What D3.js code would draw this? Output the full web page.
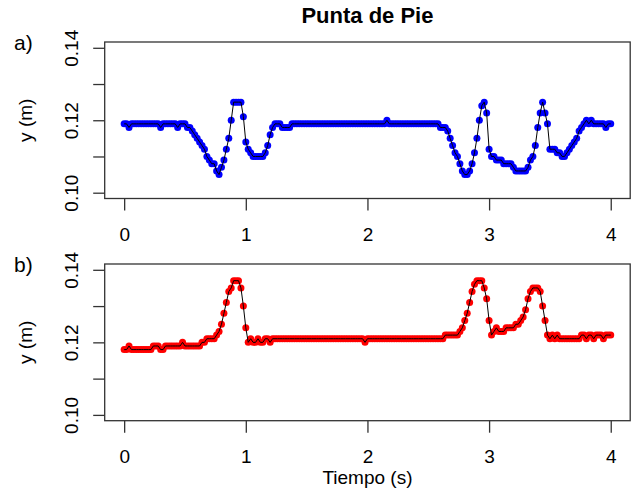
<!DOCTYPE html>
<html>
<head>
<meta charset="utf-8">
<script src="https://cdn.jsdelivr.net/npm/d3@7"></script>
<style>
  body { margin: 0; background: #fff; }
  svg { display: block; font-family: "Liberation Sans", Arial, sans-serif; }
</style>
</head>
<body>
<script>
// sample step (s)
var dt = 0.02;

// a) y (m), one value per sample
var yA = [
  .119,.119,.118,.119,.119,.119,.119,.119,.119,.119,
  .119,.119,.119,.119,.119,.118,.119,.119,.119,.119,
  .119,.119,.118,.119,.119,.119,.118,.118,.117,.116,
  .115,.114,.113,.112,.110,.109,.108,.108,.106,.105,
  .107,.109,.112,.115,.120,.125,.125,.125,.125,.121,
  .114,.112,.111,.110,.110,.110,.110,.110,.111,.113,
  .116,.118,.119,.119,.119,.118,.118,.118,.118,.119,
  .119,.119,.119,.119,.119,.119,.119,.119,.119,.119,
  .119,.119,.119,.119,.119,.119,.119,.119,.119,.119,
  .119,.119,.119,.119,.119,.119,.119,.119,.119,.119,
  .119,.119,.119,.119,.119,.119,.119,.119,.120,.119,
  .119,.119,.119,.119,.119,.119,.119,.119,.119,.119,
  .119,.119,.119,.119,.119,.119,.119,.119,.119,.119,
  .118,.118,.118,.117,.115,.113,.111,.110,.108,.106,
  .105,.105,.106,.108,.111,.115,.120,.124,.125,.122,
  .112,.110,.110,.109,.109,.109,.108,.108,.108,.108,
  .107,.106,.106,.106,.106,.106,.107,.109,.110,.113,
  .118,.122,.125,.122,.119,.112,.112,.112,.111,.111,
  .110,.110,.111,.112,.113,.114,.115,.117,.118,.119,
  .120,.119,.120,.119,.119,.119,.119,.119,.118,.119,
  .119
];

// b) y (m)
var yB = [
  .118,.118,.119,.118,.118,.118,.118,.118,.118,.118,
  .118,.118,.119,.119,.119,.118,.118,.119,.119,.119,
  .119,.119,.119,.119,.120,.119,.119,.119,.119,.119,
  .119,.119,.120,.120,.121,.121,.121,.121,.122,.123,
  .125,.128,.131,.134,.135,.137,.137,.137,.135,.130,
  .124,.120,.121,.120,.120,.121,.120,.120,.121,.121,
  .120,.121,.121,.121,.121,.121,.121,.121,.121,.121,
  .121,.121,.121,.121,.121,.121,.121,.121,.121,.121,
  .121,.121,.121,.121,.121,.121,.121,.121,.121,.121,
  .121,.121,.121,.121,.121,.121,.121,.121,.121,.120,
  .121,.121,.121,.121,.121,.121,.121,.121,.121,.121,
  .121,.121,.121,.121,.121,.121,.121,.121,.121,.121,
  .121,.121,.121,.121,.121,.121,.121,.121,.121,.121,
  .121,.121,.122,.122,.122,.122,.122,.122,.123,.124,
  .126,.128,.131,.134,.136,.137,.137,.137,.135,.132,
  .126,.122,.123,.124,.123,.123,.123,.124,.124,.124,
  .124,.125,.125,.126,.127,.129,.132,.134,.135,.135,
  .135,.134,.130,.126,.122,.121,.122,.121,.122,.121,
  .121,.121,.121,.121,.121,.121,.121,.121,.122,.122,
  .121,.122,.122,.121,.122,.122,.122,.121,.122,.122,
  .122
];

var xTicks = [0, 1, 2, 3, 4];
var yTicks = [0.10, 0.11, 0.12, 0.13, 0.14];
var yLabels = [0.10, 0.12, 0.14];

var width = 637, height = 491;
var svg = d3.select("body").append("svg")
    .attr("width", width)
    .attr("height", height);

var left = 104.7, right = 630.2;
var x = d3.scaleLinear().domain([-0.16, 4.16]).range([left, right]);

var panels = [
  { tag: "a)", data: yA, fill: "#0000ff", top: 42, bottom: 198.5 },
  { tag: "b)", data: yB, fill: "#ff0000", top: 264, bottom: 420.7 }
];

svg.append("text")
    .attr("x", (left + right) / 2)
    .attr("y", 22.5)
    .attr("text-anchor", "middle")
    .style("font-size", "22px")
    .style("font-weight", "bold")
    .text("Punta de Pie");

panels.forEach(function(p) {
    var y = d3.scaleLinear().domain([0.0984, 0.1416]).range([p.bottom, p.top]);
    var g = svg.append("g");
    var pts = p.data.map(function(v, i) { return { t: i * dt, v: v }; });

    g.append("g")
        .selectAll("circle")
        .data(pts)
        .enter().append("circle")
        .attr("cx", function(d) { return x(d.t); })
        .attr("cy", function(d) { return y(d.v); })
        .attr("r", 3.5)
        .attr("fill", p.fill);

    var line = d3.line()
        .x(function(d) { return x(d.t); })
        .y(function(d) { return y(d.v); });
    g.append("path")
        .datum(pts)
        .attr("d", line)
        .attr("fill", "none")
        .attr("stroke", "#000")
        .attr("stroke-width", 1);

    g.append("rect")
        .attr("x", left)
        .attr("y", p.top)
        .attr("width", right - left)
        .attr("height", p.bottom - p.top)
        .attr("fill", "none")
        .attr("stroke", "#333")
        .attr("stroke-width", 1.3);

    // x axis
    var xa = g.append("g")
        .attr("transform", "translate(0," + p.bottom + ")")
        .call(d3.axisBottom(x).tickValues(xTicks).tickSize(12).tickSizeOuter(0)
            .tickFormat(d3.format("d")));
    xa.select(".domain").remove();
    xa.selectAll("line").attr("stroke", "#333").attr("stroke-width", 1.3);
    xa.selectAll("text")
        .attr("y", 42.5)
        .attr("dy", 0)
        .attr("fill", "#000")
        .style("font-size", "19px")
        .style("font-family", "Liberation Sans, Arial, sans-serif");

    // y axis
    var ya = g.append("g")
        .attr("transform", "translate(" + left + ",0)")
        .call(d3.axisLeft(y).tickValues(yTicks).tickSize(11.5).tickSizeOuter(0)
            .tickFormat(function(d) {
                return yLabels.some(function(l) { return Math.abs(l - d) < 1e-9; }) ? d3.format(".2f")(d) : "";
            }));
    ya.select(".domain").remove();
    ya.selectAll("line").attr("stroke", "#333").attr("stroke-width", 1.3);
    ya.selectAll("text")
        .attr("x", 0)
        .attr("dy", 0)
        .attr("transform", "translate(-26.7,0) rotate(-90)")
        .attr("text-anchor", "middle")
        .attr("fill", "#000")
        .style("font-size", "19px")
        .style("font-family", "Liberation Sans, Arial, sans-serif");

    svg.append("text")
        .attr("transform", "translate(32," + (p.top + p.bottom) / 2 + ") rotate(-90)")
        .attr("text-anchor", "middle")
        .style("font-size", "19px")
        .text("y (m)");

    svg.append("text")
        .attr("x", 14)
        .attr("y", p.top + 7.5)
        .style("font-size", "21px")
        .text(p.tag);
});

svg.append("text")
    .attr("x", (left + right) / 2)
    .attr("y", 483.5)
    .attr("text-anchor", "middle")
    .style("font-size", "19px")
    .text("Tiempo (s)");
</script>
</body>
</html>
